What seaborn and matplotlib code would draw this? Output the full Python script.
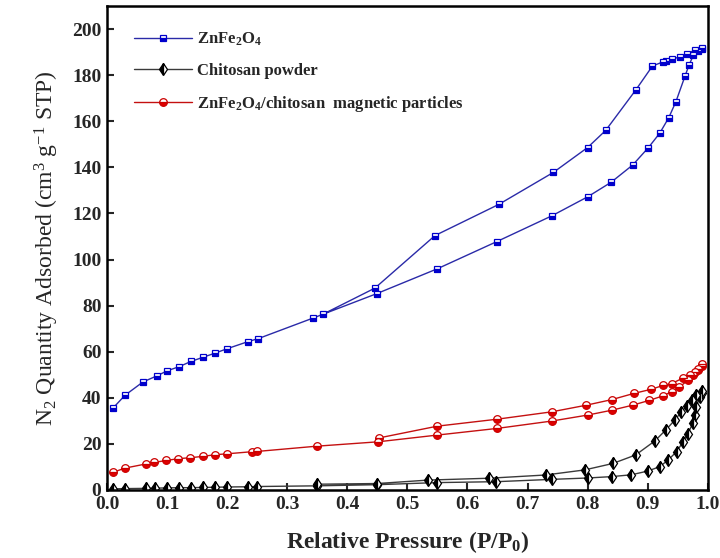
import matplotlib
matplotlib.use("Agg")
import matplotlib.pyplot as plt
import seaborn as sns
import pandas as pd

# ZnFe2O4 (adsorption then desorption)
zn_p = [0.0095, 0.03, 0.06, 0.083, 0.10, 0.12, 0.14, 0.16, 0.18, 0.20, 0.235, 0.252,
        0.343, 0.449, 0.55, 0.649, 0.74, 0.80, 0.839, 0.875, 0.901, 0.92, 0.935, 0.947,
        0.962, 0.969, 0.976, 0.984, 0.99,
        0.99, 0.978, 0.966, 0.953, 0.94, 0.93, 0.925, 0.908, 0.88, 0.83, 0.80, 0.743,
        0.652, 0.546, 0.446, 0.359]
zn_q = [35.4, 41.1, 46.9, 49.5, 51.7, 53.5, 55.8, 57.6, 59.4, 61.3, 64.4, 65.7,
        74.6, 85.2, 96.0, 107.8, 118.9, 127.2, 133.5, 141.0, 148.5, 154.8, 161.5, 168.5,
        179.5, 184.5, 188.6, 190.5, 191.5,
        191.9, 190.8, 189.3, 187.9, 186.9, 186.2, 185.7, 184.0, 173.5, 156.0, 148.6, 137.8,
        123.9, 110.4, 87.6, 76.2]

# Chitosan powder
ch_p = [0.01, 0.03, 0.065, 0.08, 0.10, 0.12, 0.14, 0.16, 0.18, 0.20, 0.235, 0.25,
        0.35, 0.45, 0.549, 0.648, 0.74, 0.80, 0.84, 0.873, 0.90, 0.92, 0.934, 0.948,
        0.959, 0.967, 0.975, 0.978, 0.981, 0.987, 0.99,
        0.99, 0.98, 0.973, 0.965, 0.956, 0.945, 0.93, 0.912, 0.88, 0.842, 0.795, 0.73,
        0.636, 0.535, 0.45, 0.35]
ch_q = [0.5, 0.6, 0.7, 0.8, 0.9, 1.0, 1.0, 1.1, 1.2, 1.3, 1.4, 1.5,
        1.8, 2.3, 3.2, 3.6, 4.6, 5.2, 5.8, 6.6, 8.2, 10.1, 13.0, 16.6,
        20.9, 24.5, 28.9, 32.5, 36.1, 40.4, 42.0,
        42.8, 41.1, 39.0, 36.4, 33.9, 30.3, 26.0, 21.3, 15.2, 11.5, 8.7, 6.5,
        5.1, 4.3, 2.8, 2.5]

# ZnFe2O4/chitosan magnetic particles
cp_p = [0.0105, 0.03, 0.065, 0.079, 0.099, 0.119, 0.139, 0.16, 0.18, 0.20, 0.241, 0.249,
        0.349, 0.451, 0.549, 0.649, 0.74, 0.80, 0.84, 0.875, 0.903, 0.926, 0.94, 0.952,
        0.967, 0.976, 0.984, 0.99,
        0.99, 0.984, 0.978, 0.97, 0.959, 0.94, 0.926, 0.906, 0.877, 0.84, 0.798, 0.74,
        0.649, 0.55, 0.453]
cp_q = [7.7, 9.5, 11.3, 12.0, 12.8, 13.6, 14.0, 14.6, 15.3, 15.7, 16.6, 16.7,
        19.0, 20.9, 23.8, 26.7, 29.9, 32.5, 34.6, 36.8, 38.9, 40.9, 42.7, 44.5,
        47.6, 49.8, 51.9, 54.0,
        54.8, 52.7, 51.2, 50.1, 48.6, 46.2, 45.4, 43.7, 41.9, 39.2, 36.8, 33.9,
        30.7, 27.7, 22.6]

labels = [r"ZnFe$_2$O$_4$", "Chitosan powder", r"ZnFe$_2$O$_4$/chitosan  magnetic particles"]
x_ticks = [0.0, 0.1, 0.2, 0.3, 0.4, 0.5, 0.6, 0.7, 0.8, 0.9, 1.0]
y_ticks = [0, 20, 40, 60, 80, 100, 120, 140, 160, 180, 200]

sns.set_style("ticks")
plt.rcParams["font.family"] = ["Liberation Serif", "DejaVu Serif"]
plt.rcParams["mathtext.fontset"] = "dejavuserif"
plt.rcParams["mathtext.default"] = "regular"

fig = plt.figure(figsize=(7.2, 5.58), dpi=100)
ax = fig.add_axes([0.1486, 0.1219, 0.8344, 0.8673])

styles = [
    dict(color="#2a2aa8", marker="s", markersize=5, markerfacecolor="#0000cc",
         markeredgecolor="#0000cc", markerfacecoloralt="white", fillstyle="bottom"),
    dict(color="#3a3a3a", marker="d", markersize=6, markerfacecolor="black",
         markeredgecolor="black", markerfacecoloralt="white", fillstyle="left"),
    dict(color="#c41010", marker="o", markersize=5.5, markerfacecolor="#e00000",
         markeredgecolor="#cc0000", markerfacecoloralt="white", fillstyle="bottom"),
]
for (px, qy), lab, st in zip([(zn_p, zn_q), (ch_p, ch_q), (cp_p, cp_q)], labels, styles):
    df = pd.DataFrame({"p": px, "q": qy})
    sns.lineplot(data=df, x="p", y="q", sort=False, estimator=None, ax=ax,
                 linewidth=1.0, markeredgewidth=0.9, label=lab, **st)

ax.set_xlim(0, 1.0)
ax.set_ylim(0, 210)
ax.set_xticks(x_ticks)
ax.set_yticks(y_ticks)
ax.set_xticklabels([f"{v:.1f}" for v in x_ticks], fontsize=14, fontweight="bold")
ax.set_yticklabels([str(v) for v in y_ticks], fontsize=14, fontweight="bold")
ax.tick_params(direction="in", length=5, width=1.5, top=False, right=False, pad=4)
for s in ax.spines.values():
    s.set_linewidth(1.8)
    s.set_color("black")

ax.set_xlabel(r"Relative Pressure (P/P$_0$)", fontsize=17, fontweight="bold", labelpad=12)
ax.set_ylabel(r"N$_2$ Quantity Adsorbed (cm$^3$ g$^{-1}$ STP)", fontsize=17, labelpad=8)

leg = ax.legend(loc="upper left", bbox_to_anchor=(0.02, 0.98), frameon=False,
                prop={"family": "Liberation Serif", "weight": "bold", "size": 12},
                handlelength=3.5, handletextpad=0.25, labelspacing=0.9)

fig.savefig("out.png", dpi=100)
